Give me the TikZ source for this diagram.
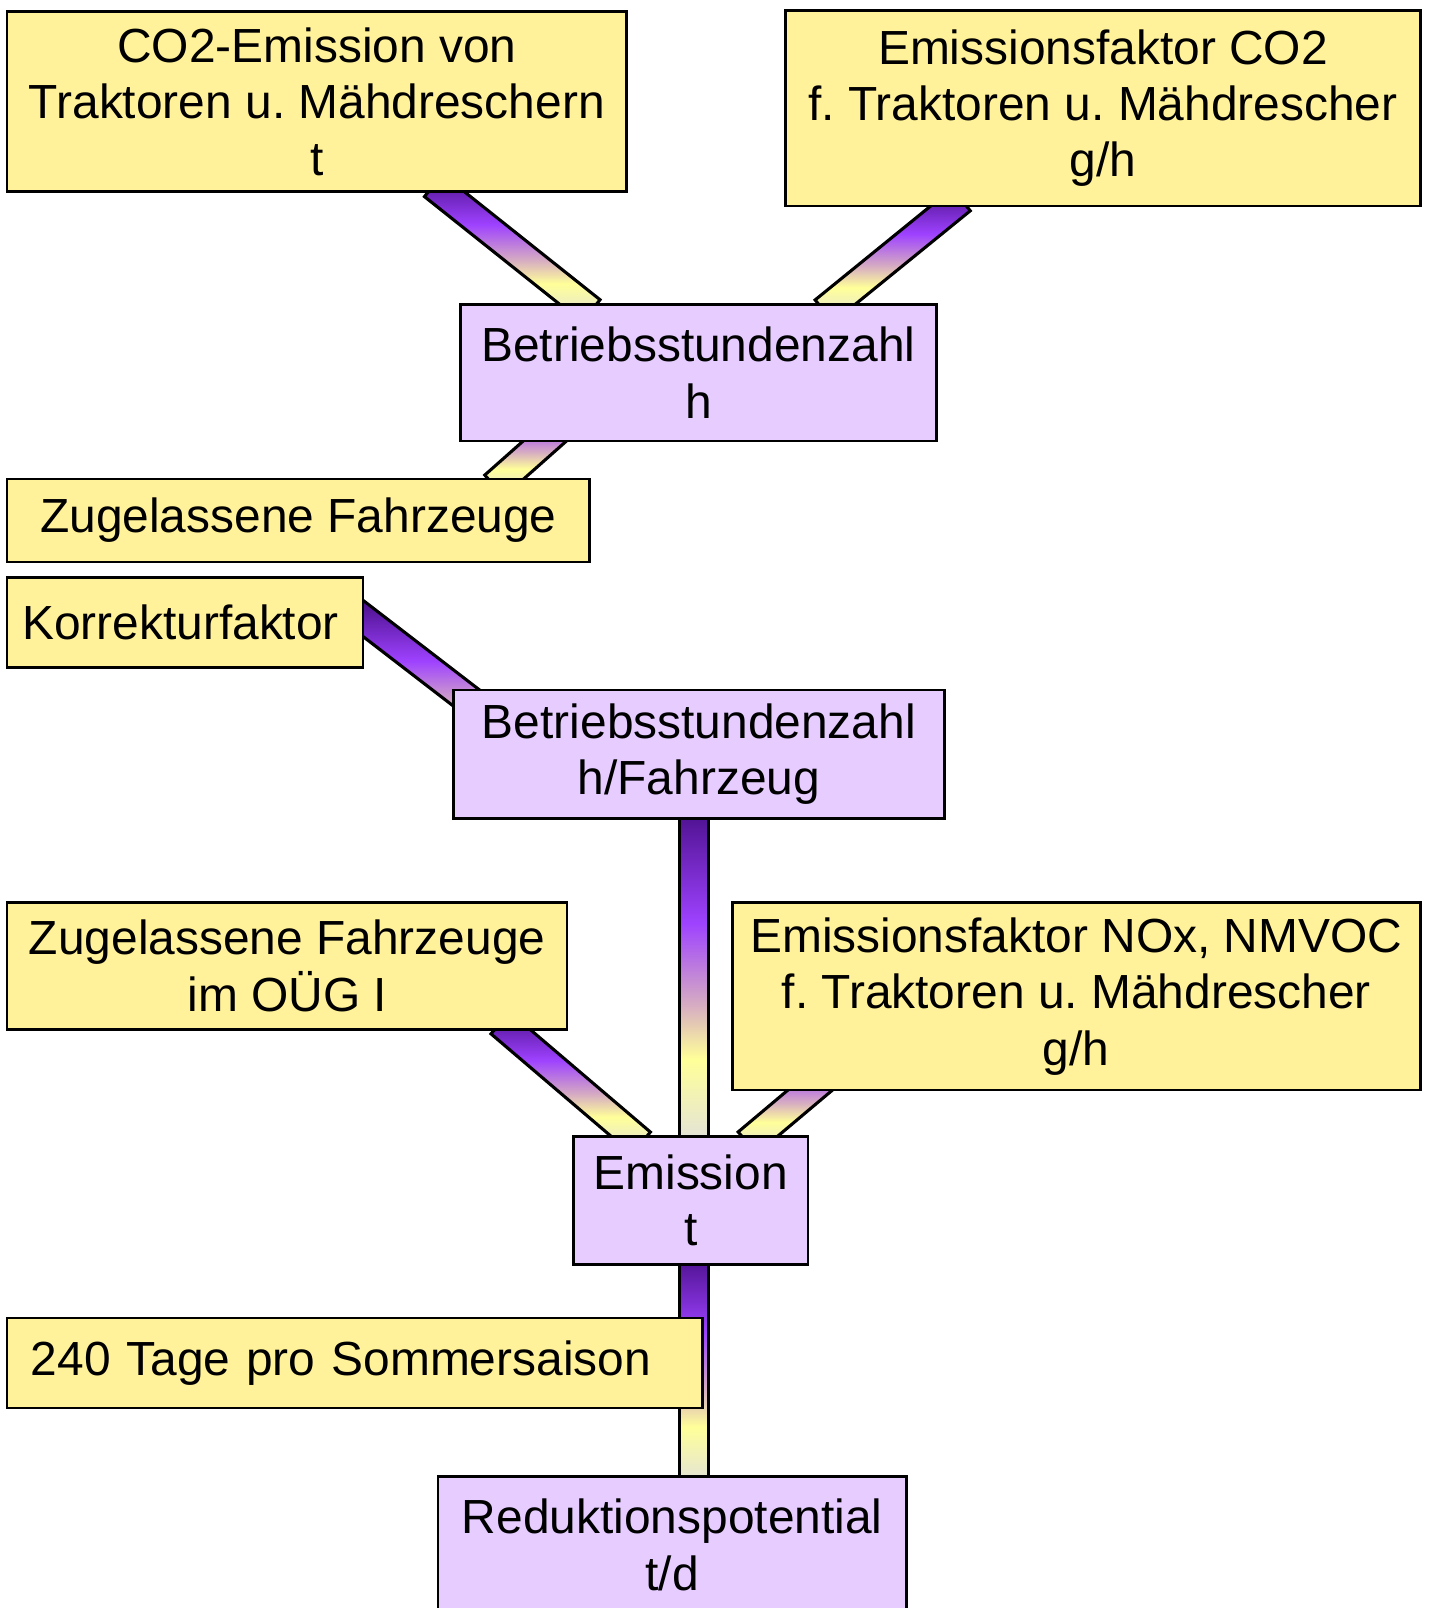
\documentclass[tikz,border=0pt]{standalone}
\usepackage{fontspec}
\setmainfont{Liberation Sans}
\usetikzlibrary{calc,backgrounds}
\frenchspacing

\definecolor{boxyellow}{HTML}{FFF29A}
\definecolor{boxviolet}{HTML}{E6CCFF}
\definecolor{banddark}{HTML}{4A0F8A}
\definecolor{bandviolet}{HTML}{9E42FF}
\definecolor{bandpink}{HTML}{D6ACC2}
\definecolor{bandyellow}{HTML}{FFFF99}
\definecolor{bandgrey}{HTML}{E0E0DE}

\pgfdeclareverticalshading{bandshade}{100bp}{color(0bp)=(bandgrey); color(25bp)=(bandgrey); color(38bp)=(bandyellow); color(46bp)=(bandpink); color(58bp)=(bandviolet); color(75bp)=(banddark); color(100bp)=(banddark)}

\tikzset{
  box/.style={draw=black, line width=2.5pt, inner sep=0pt, align=center,
    font=\fontsize{46.7}{55}\selectfont},
  inputbox/.style={box, fill=boxyellow},
  resultbox/.style={box, fill=boxviolet},
  linkband/.style={draw=black, line width=3pt, shading=bandshade}
}

% broad shaded band behind the boxes, from #1 to #2
\newcommand{\joinband}[2]{%
  \begin{scope}[on background layer]
    \coordinate (s) at ($(#1)!-12pt!(#2)$);
    \coordinate (t) at ($(#2)!-12pt!(#1)$);
    \shade [linkband] ($(s)!14pt!90:(t)$) -- ($(s)!14pt!-90:(t)$)
      -- ($(t)!14pt!90:(s)$) -- ($(t)!14pt!-90:(s)$) -- cycle;
  \end{scope}}

\begin{document}
\begin{tikzpicture}[x=1pt, y=-1pt]
    \useasboundingbox (0,0) rectangle (1395,1568);
    % Draw input boxes
    \node [inputbox, minimum width=604, minimum height=176] (co2) at (309,99) {CO2-Emission von\\Traktoren u. Mähdreschern\\t};
    \node [inputbox, minimum width=619, minimum height=191] (faktorco2) at (1075.5,105.5) {Emissionsfaktor CO2\\f. Traktoren u. Mähdrescher\\g/h};
    \node [inputbox, minimum width=568, minimum height=81] (zugelassen) at (291,507.5) {Zugelassene Fahrzeuge};
    \node [inputbox, minimum width=347, minimum height=88] (korrektur) at (180.5,607) {Korrekturfaktor\kern9pt};
    \node [inputbox, minimum width=546, minimum height=124] (oeug) at (280,942) {Zugelassene Fahrzeuge\\im OÜG I};
    \node [inputbox, minimum width=671, minimum height=183] (faktornox) at (1049.5,971.5) {Emissionsfaktor NOx, NMVOC\\f. Traktoren u. Mähdrescher\\g/h};
    \node [inputbox, text width=632, align=left, inner xsep=23, minimum height=88] (tage) at (346,1329) {240 Tage pro Sommersaison};
    % Draw result boxes
    \node [resultbox, minimum width=464, minimum height=133] (stunden) at (681,363.5) {Betriebsstundenzahl\\h};
    \node [resultbox, minimum width=479, minimum height=125] (stundenfz) at (681.5,735.5) {Betriebsstundenzahl\\h/Fahrzeug};
    \node [resultbox, minimum width=229, minimum height=125] (emission) at (673.5,1170.5) {Emission\\t};
    \node [resultbox, minimum width=457, minimum height=133] (reduktion) at (655.5,1506.5) {Reduktionspotential\\t/d};
    % Draw bands between the boxes
    \joinband{[xshift=123]co2.south}{[xshift=-114]stunden.north}
    \joinband{[xshift=-147.5]faktorco2.south}{[xshift=132]stunden.north}
    \joinband{[xshift=-115,yshift=32]stunden.south}{[xshift=200]zugelassen.north}
    \joinband{[yshift=3]korrektur.east}{[xshift=-148.5,yshift=-69]stundenfz.north}
    \joinband{[xshift=-4.5]stundenfz.south}{[xshift=3.5]emission.north}
    \joinband{[xshift=217]oeug.south}{[xshift=-57.5]emission.north}
    \joinband{[xshift=-213.5,yshift=40]faktornox.south}{[xshift=64.5]emission.north}
    \joinband{[xshift=3.5]emission.south}{[xshift=21.5]reduktion.north}
\end{tikzpicture}
\end{document}
